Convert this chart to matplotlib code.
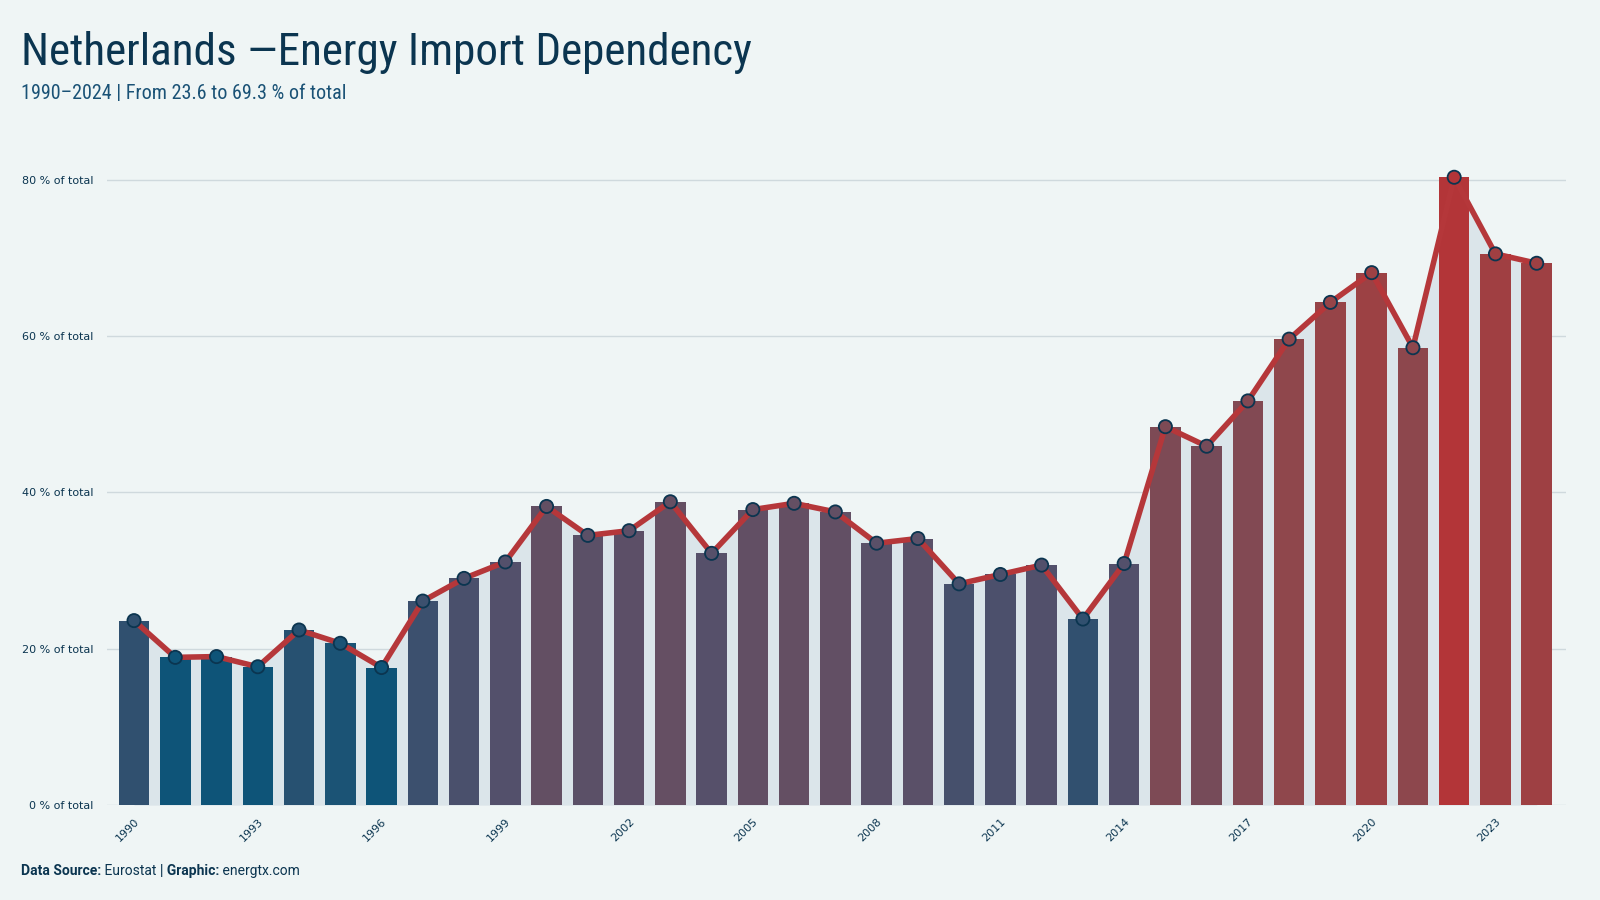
import matplotlib.pyplot as plt
import matplotlib.font_manager as fm
import numpy as np

years = list(range(1990, 2025))
values = [23.6, 18.9, 19.0, 17.7, 22.4, 20.7, 17.6, 26.1, 29.0, 31.1,
          38.2, 34.5, 35.1, 38.8, 32.2, 37.8, 38.6, 37.5, 33.5, 34.1,
          28.3, 29.5, 30.7, 23.8, 30.9, 48.4, 45.9, 51.7, 59.6, 64.3,
          68.1, 58.5, 80.3, 70.5, 69.3]
y_ticks = [0, 20, 40, 60, 80]

# colour ramp blue -> purple -> red, anchored on values
ramp_v = [19, 23.6, 31, 38.5, 48.5, 59, 70, 80.3]
ramp_c = ["#0e5478", "#30506f", "#53506b", "#644f63", "#7d4a55", "#8e474d", "#9f4042", "#b33538"]


def hex2rgb(h):
    h = h.lstrip("#")
    return [int(h[i:i + 2], 16) / 255 for i in (0, 2, 4)]


ramp_rgb = np.array([hex2rgb(c) for c in ramp_c])


def value_color(v):
    return tuple(np.interp(v, ramp_v, ramp_rgb[:, k]) for k in range(3))


names = {f.name for f in fm.fontManager.ttflist}
narrow = "DejaVu Sans"
for cand in ["Ubuntu Condensed", "Roboto Condensed", "Liberation Sans Narrow",
             "Open Sans Condensed", "Lato"]:
    if cand in names:
        narrow = cand
        break
plain = "Roboto" if "Roboto" in names else "DejaVu Sans"

bg = "#eff5f5"
navy = "#0b3550"

fig = plt.figure(figsize=(16, 9), dpi=100, facecolor=bg)
ax = fig.add_axes([0.067, 0.1054, 0.912, 0.7298])
ax.set_facecolor(bg)

x = np.arange(len(years))
cols = [value_color(v) for v in values]

ax.fill_between(x, values, 0, color="#dbe5ea", zorder=1, lw=0)
ax.bar(x, values, width=0.74, color=cols, zorder=2)
ax.plot(x, values, color="#b5373a", lw=4, zorder=3, solid_joinstyle="round")
ax.scatter(x, values, s=90, c=cols, edgecolors=navy, linewidths=1.3, zorder=4)

ax.set_xlim(-0.65, len(years) - 1 + 0.72)
ax.set_ylim(0, 84)
ax.set_yticks(y_ticks)
ax.set_yticklabels([f"{t} % of total" for t in y_ticks])
ax.set_xticks(x[::3])
ax.set_xticklabels([str(y) for y in years[::3]], rotation=45, ha="right", rotation_mode="anchor")
ax.grid(axis="y", color="#cfd9dd", lw=1, zorder=0)
ax.set_axisbelow(True)
for s in ax.spines.values():
    s.set_visible(False)
ax.tick_params(axis="both", length=0, colors=navy, labelsize=8)
ax.tick_params(axis="x", pad=8)
ax.tick_params(axis="y", pad=10)

fig.text(0.013, 0.942, "Netherlands \u2014Energy Import Dependency", fontsize=32.5,
         color=navy, family=narrow, va="center")
fig.text(0.013, 0.896, "1990\u20132024 | From 23.6 to 69.3 % of total", fontsize=14.5,
         color="#1a5276", family=narrow, va="center")

t1 = fig.text(0.013, 0.028, "Data Source:", fontsize=10, color=navy, weight="bold", family=plain)
t2 = ax.annotate(" Eurostat ", xy=(1, 0), xycoords=t1, fontsize=10, color=navy,
                 va="bottom", family=plain)
t3 = ax.annotate("| Graphic:", xy=(1, 0), xycoords=t2, fontsize=10, color=navy,
                 weight="bold", va="bottom", family=plain)
ax.annotate(" energtx.com", xy=(1, 0), xycoords=t3, fontsize=10, color=navy,
            va="bottom", family=plain)

fig.savefig("out.png", dpi=100, facecolor=bg)
